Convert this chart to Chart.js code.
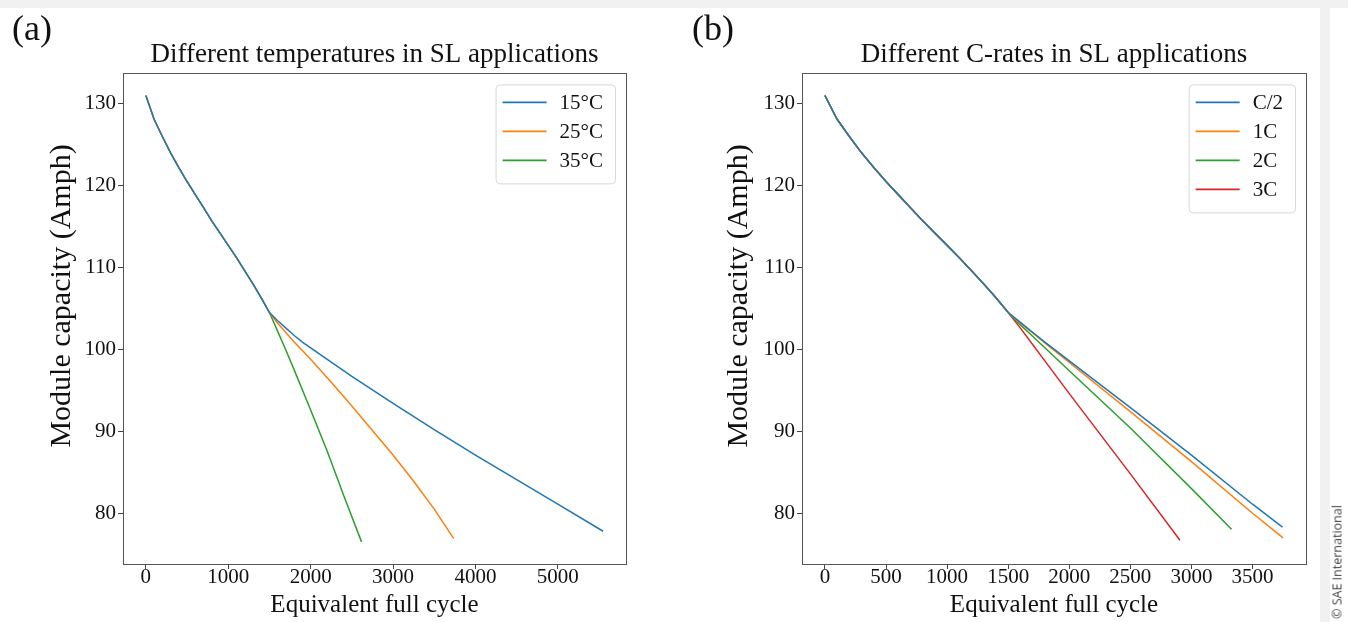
<!DOCTYPE html>
<html>
<head>
<meta charset="utf-8">
<script src="https://cdn.jsdelivr.net/npm/chart.js@4"></script>
<style>
  html, body { margin: 0; padding: 0; background: #ffffff; }
  body { width: 1348px; height: 622px; position: relative; overflow: hidden; font-family: "Liberation Serif", serif; }
  .topband { position: absolute; left: 0; top: 0; width: 1348px; height: 8px; background: #f1f1f1; }
  .gutter { position: absolute; left: 1320px; top: 0; width: 10px; height: 622px; background: #f1f1f1; }
  .panel { position: absolute; top: 0; }
  .tag { position: absolute; font-family: "Liberation Serif", serif; font-size: 36px; color: #111; line-height: 1; }
  .credit { position: absolute; left: 1337px; top: 562px; transform: translate(-50%, -50%) rotate(-90deg); white-space: nowrap;
            font-family: "Open Sans", sans-serif; font-size: 12.5px; color: #444; }
</style>
</head>
<body>
<div class="topband"></div>
<div class="gutter"></div>
<div class="panel" style="left:0"><canvas id="tempChart" width="674" height="622"></canvas></div>
<div class="panel" style="left:674px"><canvas id="rateChart" width="674" height="622"></canvas></div>
<div class="tag" style="left:12px; top:10px">(a)</div>
<div class="tag" style="left:692px; top:10px">(b)</div>
<div class="credit">© SAE International</div>
<script>
// shared ageing path up to the split point
const commonCycles = [0, 100, 200, 300, 400, 500, 600, 700, 800, 900, 1000, 1100, 1200, 1300, 1400, 1500];
const commonCapacity = [131.0, 128.1, 126.0, 124.0, 122.2, 120.5, 118.9, 117.3, 115.7, 114.2, 112.7, 111.2, 109.6, 108.0, 106.3, 104.5];

// (a) temperatures
const temp15Cycles = [1600, 1700, 1800, 1900, 2000, 2500, 3000, 3500, 4000, 4500, 5000, 5550];
const temp15Capacity = [103.5, 102.6, 101.7, 100.9, 100.2, 96.7, 93.4, 90.2, 87.1, 84.1, 81.1, 77.8];
const temp25Cycles = [1600, 1800, 2000, 2250, 2500, 2750, 3000, 3250, 3500, 3737];
const temp25Capacity = [103.2, 100.9, 98.8, 96.0, 93.1, 90.1, 87.1, 83.9, 80.5, 76.9];
const temp35Cycles = [1600, 1700, 1800, 2000, 2200, 2400, 2618];
const temp35Capacity = [102.2, 99.9, 97.5, 92.6, 87.6, 82.2, 76.5];

// (b) C-rates
const rateHalfCycles = [1600, 1700, 1800, 2000, 2500, 3000, 3500, 3745];
const rateHalfCapacity = [103.3, 102.1, 100.9, 98.6, 92.9, 87.1, 81.1, 78.3];
const rate1Cycles = [1600, 1700, 1800, 2000, 2500, 3000, 3500, 3750];
const rate1Capacity = [103.2, 102.0, 100.8, 98.4, 92.4, 86.3, 80.0, 77.0];
const rate2Cycles = [1600, 1700, 1800, 2000, 2500, 3000, 3328];
const rate2Capacity = [103.0, 101.6, 100.2, 97.4, 90.4, 83.0, 78.05];
const rate3Cycles = [1600, 1700, 1800, 2000, 2500, 2906];
const rate3Capacity = [102.6, 100.6, 98.6, 94.6, 84.8, 76.7];

const tempLabels = ['15°C', '25°C', '35°C'];
const rateLabels = ['C/2', '1C', '2C', '3C'];
const tempXTicks = [0, 1000, 2000, 3000, 4000, 5000];
const rateXTicks = [0, 500, 1000, 1500, 2000, 2500, 3000, 3500];
const yTicks = [80, 90, 100, 110, 120, 130];

const colors = ['#1f77b4', '#ff7f0e', '#2ca02c', '#d62728'];
const serif = '"Liberation Serif", "Times New Roman", serif';

function toPoints(cycles, caps) {
    const xs = commonCycles.concat(cycles);
    const ys = commonCapacity.concat(caps);
    return xs.map((x, i) => ({ x: x, y: ys[i] }));
}

const framePlugin = {
    id: 'frame',
    afterDraw(chart) {
        const { ctx, chartArea: a } = chart;
        ctx.save();
        ctx.strokeStyle = '#555';
        ctx.lineWidth = 1;
        ctx.strokeRect(Math.round(a.left) + 0.5, Math.round(a.top) + 0.5, Math.round(a.right - a.left), Math.round(a.bottom - a.top));
        ctx.restore();
    },
};

// y label sits a little above the axis centre in the source figure
const yLabelPlugin = {
    id: 'yLabel',
    afterDraw(chart, args, opts) {
        const { ctx } = chart;
        ctx.save();
        ctx.translate(opts.x, opts.y);
        ctx.rotate(-Math.PI / 2);
        ctx.font = '30px ' + serif;
        ctx.fillStyle = '#111';
        ctx.textAlign = 'center';
        ctx.textBaseline = 'middle';
        ctx.fillText(opts.text, 0, 0);
        ctx.restore();
    },
};

const boxLegend = {
    id: 'boxLegend',
    afterDraw(chart) {
        const { ctx, chartArea: a } = chart;
        const sets = chart.data.datasets;
        ctx.save();
        ctx.font = '21px ' + serif;
        let textW = 0;
        sets.forEach(d => { textW = Math.max(textW, ctx.measureText(d.label).width); });
        const w = 64 + textW + 12;
        const h = 12 + sets.length * 29;
        const right = a.right - 11;
        const left = right - w;
        const top = a.top + 11;
        ctx.beginPath();
        ctx.roundRect(left + 0.5, top + 0.5, w, h, 4);
        ctx.fillStyle = 'rgba(255,255,255,0.85)';
        ctx.fill();
        ctx.strokeStyle = '#d8d8d8';
        ctx.lineWidth = 1;
        ctx.stroke();
        sets.forEach((d, i) => {
            const y = top + 18 + i * 29;
            ctx.strokeStyle = d.borderColor;
            ctx.lineWidth = 1.6;
            ctx.beginPath();
            ctx.moveTo(left + 7, y);
            ctx.lineTo(left + 51, y);
            ctx.stroke();
            ctx.fillStyle = '#111';
            ctx.textBaseline = 'middle';
            ctx.textAlign = 'left';
            ctx.fillText(d.label, left + 64, y + 1);
        });
        ctx.restore();
    },
};

function makeChart(id, title, labels, series, xMin, xMax, xTicks, yAxisWidth, padRight, yLabelX) {
    const datasets = series.map((pts, i) => ({
        label: labels[i],
        data: pts,
        borderColor: colors[i],
        borderWidth: 1.5,
        pointRadius: 0,
        fill: false,
        tension: 0,
    }));
    return new Chart(document.getElementById(id), {
        type: 'line',
        data: { datasets: datasets },
        options: {
            responsive: false,
            animation: false,
            devicePixelRatio: 1,
            layout: { padding: { left: 0, right: padRight, top: 0, bottom: 0 } },
            plugins: {
                legend: { display: false },
                tooltip: { enabled: false },
                yLabel: { text: 'Module capacity (Amph)', x: yLabelX, y: 296 },
                title: {
                    display: true,
                    fullSize: false,
                    text: title,
                    color: '#111',
                    font: { family: serif, size: 27, weight: 'normal' },
                    padding: { top: 39, bottom: 2 },
                },
            },
            scales: {
                x: {
                    type: 'linear',
                    min: xMin,
                    max: xMax,
                    afterBuildTicks: (scale) => { scale.ticks = xTicks.map(v => ({ value: v })); },
                    afterFit: (scale) => { scale.height = 58; },
                    grid: { display: true, drawOnChartArea: false, drawTicks: true, tickLength: 5, color: '#444' },
                    border: { display: true, color: '#555' },
                    ticks: { color: '#111', padding: 0, maxRotation: 0, callback: (v) => String(v), font: { family: serif, size: 21, lineHeight: 0.8 } },
                    title: {
                        display: true,
                        text: 'Equivalent full cycle',
                        color: '#111',
                        font: { family: serif, size: 25 },
                        padding: { top: 0, bottom: 2 },
                    },
                },
                y: {
                    type: 'linear',
                    min: 73.8,
                    max: 133.7,
                    afterBuildTicks: (scale) => { scale.ticks = yTicks.map(v => ({ value: v })); },
                    afterFit: (scale) => { scale.width = yAxisWidth; },
                    grid: { display: true, drawOnChartArea: false, drawTicks: true, tickLength: 5, color: '#444' },
                    border: { display: true, color: '#555' },
                    ticks: { color: '#111', padding: 2, callback: (v) => String(v), font: { family: serif, size: 21 } },
                },
            },
        },
        plugins: [framePlugin, boxLegend, yLabelPlugin],
    });
}

makeChart('tempChart', 'Different temperatures in SL applications', tempLabels, [
    toPoints(temp15Cycles, temp15Capacity),
    toPoints(temp25Cycles, temp25Capacity),
    toPoints(temp35Cycles, temp35Capacity),
], -277.5, 5827.5, tempXTicks, 123, 48, 62);

makeChart('rateChart', 'Different C-rates in SL applications', rateLabels, [
    toPoints(rateHalfCycles, rateHalfCapacity),
    toPoints(rate1Cycles, rate1Capacity),
    toPoints(rate2Cycles, rate2Capacity),
    toPoints(rate3Cycles, rate3Capacity),
], -187.5, 3937.5, rateXTicks, 128, 42, 65);
</script>
</body>
</html>
